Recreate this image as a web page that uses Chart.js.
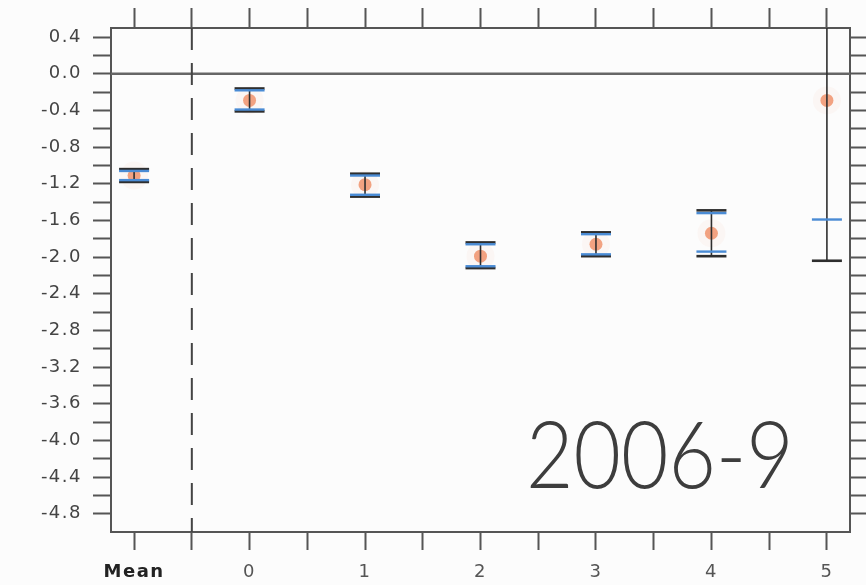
<!DOCTYPE html>
<html>
<head>
<meta charset="utf-8">
<script src="https://cdn.jsdelivr.net/npm/chart.js@4.4.0/dist/chart.umd.min.js"></script>
<style>
  html, body { margin: 0; padding: 0; background: #fcfcfc; }
  canvas { display: block; }
</style>
</head>
<body>
<canvas id="chart" width="866" height="585"></canvas>
<script>
// categories along the x axis and where they sit on the linear scale
const categories = ['Mean', '0', '1', '2', '3', '4', '5'];
const xPositions = [-1, 0, 1, 2, 3, 4, 5];

// central estimate (orange dots)
const centerValues = [-1.11, -0.29, -1.21, -1.99, -1.86, -1.74, -0.29];
// black range (caps)
const rangeLow  = [-1.18, -0.41, -1.34, -2.12, -1.99, -1.99, -2.04];
const rangeHigh = [-1.04, -0.16, -1.09, -1.84, -1.73, -1.49, 1.00];
// blue marks
const blueLow  = [-1.16, -0.39, -1.32, -2.10, -1.97, -1.94, -1.59];
const blueHigh = [-1.06, -0.18, -1.11, -1.86, -1.75, -1.52, null];

// tick labels
const xTickValues = [-1, -0.5, 0, 0.5, 1, 1.5, 2, 2.5, 3, 3.5, 4, 4.5, 5];
const yTickLabels = ['0.4', '0.0', '-0.4', '-0.8', '-1.2', '-1.6', '-2.0', '-2.4',
  '-2.8', '-3.2', '-3.6', '-4.0', '-4.4', '-4.8'];
const dividerX = -0.5;
const periodLabel = '2006-9';

// minor ticks every 0.2 between -4.8 and 0.4
const yTickValues = [];
for (let i = -24; i <= 2; i++) yTickValues.push(i / 5);

const AXIS = '#555';

function line(ctx, x1, y1, x2, y2) {
  ctx.beginPath();
  ctx.moveTo(x1, y1);
  ctx.lineTo(x2, y2);
  ctx.stroke();
}

/**
 * Zero line, divider, error bars and the period label
 */
const overlay = {
  id: 'overlay',
  beforeDraw(chart) {
    chart.ctx.letterSpacing = '1.5px';
  },
  beforeDatasetsDraw(chart) {
    const { ctx, chartArea: a, scales: { x, y } } = chart;
    ctx.save();
    ctx.strokeStyle = '#666';
    ctx.lineWidth = 2.5;
    const y0 = y.getPixelForValue(0);
    line(ctx, a.left, y0, a.right, y0);

    ctx.strokeStyle = '#444';
    ctx.lineWidth = 2;
    ctx.setLineDash([22, 13]);
    const xd = x.getPixelForValue(dividerX);
    line(ctx, xd, a.top, xd, a.bottom);
    ctx.restore();
  },
  afterDatasetsDraw(chart) {
    const { ctx, chartArea: a, scales: { x, y } } = chart;
    const capHalf = 15;

    ctx.save();
    ctx.beginPath();
    ctx.rect(a.left, a.top, a.right - a.left, a.bottom - a.top);
    ctx.clip();

    xPositions.forEach((xv, i) => {
      const px = x.getPixelForValue(xv);
      const lo = y.getPixelForValue(rangeLow[i]);
      const hi = y.getPixelForValue(rangeHigh[i]);

      ctx.strokeStyle = '#2e2e2e';
      ctx.lineWidth = 1.6;
      line(ctx, px, lo, px, hi);
      ctx.lineWidth = 2.6;
      line(ctx, px - capHalf, lo, px + capHalf, lo);
      line(ctx, px - capHalf, hi, px + capHalf, hi);

      ctx.strokeStyle = '#4a8bd4';
      ctx.lineWidth = 2.4;
      if (blueLow[i] !== null) {
        const bl = y.getPixelForValue(blueLow[i]);
        line(ctx, px - capHalf, bl, px + capHalf, bl);
      }
      if (blueHigh[i] !== null) {
        const bh = y.getPixelForValue(blueHigh[i]);
        line(ctx, px - capHalf, bh, px + capHalf, bh);
      }
    });
    ctx.restore();

    // big period label, a bit narrower than Lato draws it
    ctx.save();
    ctx.letterSpacing = '0px';
    ctx.translate(526, 488);
    ctx.scale(0.89, 1);
    ctx.font = '300 92px Lato, "Open Sans", sans-serif';
    ctx.fillStyle = '#3d3d3d';
    ctx.textAlign = 'left';
    ctx.textBaseline = 'alphabetic';
    ctx.fillText(periodLabel, 0, 0);
    ctx.restore();
  }
};

const pointData = xPositions.map((xv, i) => ({ x: xv, y: centerValues[i] }));

const gridOpts = (len) => ({
  drawOnChartArea: false,
  drawTicks: true,
  tickLength: len,
  tickWidth: 2,
  tickColor: AXIS
});
const borderOpts = { display: true, color: AXIS, width: 2 };

new Chart(document.getElementById('chart'), {
  type: 'scatter',
  data: {
    datasets: [
      {
        // soft glow round each dot
        data: pointData,
        pointRadius: 14,
        pointBackgroundColor: 'rgba(246, 175, 150, 0.08)',
        pointBorderWidth: 0
      },
      {
        data: pointData,
        pointRadius: 6.5,
        pointBackgroundColor: 'rgba(240, 145, 105, 0.85)',
        pointBorderWidth: 0
      }
    ]
  },
  options: {
    responsive: false,
    animation: false,
    layout: { padding: 0 },
    plugins: {
      legend: { display: false },
      tooltip: { enabled: false }
    },
    scales: {
      x: {
        type: 'linear',
        position: 'bottom',
        min: -1.2,
        max: 5.2,
        afterBuildTicks: (s) => { s.ticks = xTickValues.map(v => ({ value: v })); },
        afterFit: (s) => { s.height = 53; },
        grid: gridOpts(18),
        border: borderOpts,
        ticks: {
          autoSkip: false,
          maxRotation: 0,
          padding: 12,
          color: (c) => (c.tick && c.tick.value === -1 ? '#222' : '#555'),
          font: (c) => ({
            family: '"DejaVu Sans", sans-serif',
            size: 18,
            weight: c.tick && c.tick.value === -1 ? 'bold' : 'normal'
          }),
          callback: (v) => {
            const i = xPositions.indexOf(v);
            return i < 0 ? '' : categories[i];
          }
        }
      },
      x2: {
        type: 'linear',
        position: 'top',
        min: -1.2,
        max: 5.2,
        afterBuildTicks: (s) => { s.ticks = xTickValues.map(v => ({ value: v })); },
        afterFit: (s) => { s.height = 28; },
        grid: gridOpts(20),
        border: borderOpts,
        ticks: { display: false }
      },
      y: {
        type: 'linear',
        position: 'left',
        min: -5.0,
        max: 0.5,
        afterBuildTicks: (s) => { s.ticks = yTickValues.map(v => ({ value: v })); },
        afterFit: (s) => { s.width = 111; },
        grid: gridOpts(18),
        border: borderOpts,
        ticks: {
          autoSkip: false,
          padding: 11,
          color: '#444',
          font: { family: '"DejaVu Sans", sans-serif', size: 18 },
          callback: (v) => {
            const lbl = yTickLabels.find(t => Math.abs(Number(t) - v) < 1e-6);
            return lbl === undefined ? '' : lbl;
          }
        }
      },
      y2: {
        type: 'linear',
        position: 'right',
        min: -5.0,
        max: 0.5,
        afterBuildTicks: (s) => { s.ticks = yTickValues.map(v => ({ value: v })); },
        afterFit: (s) => { s.width = 16; },
        grid: gridOpts(16),
        border: borderOpts,
        ticks: { display: false }
      }
    }
  },
  plugins: [overlay]
});
</script>
</body>
</html>
